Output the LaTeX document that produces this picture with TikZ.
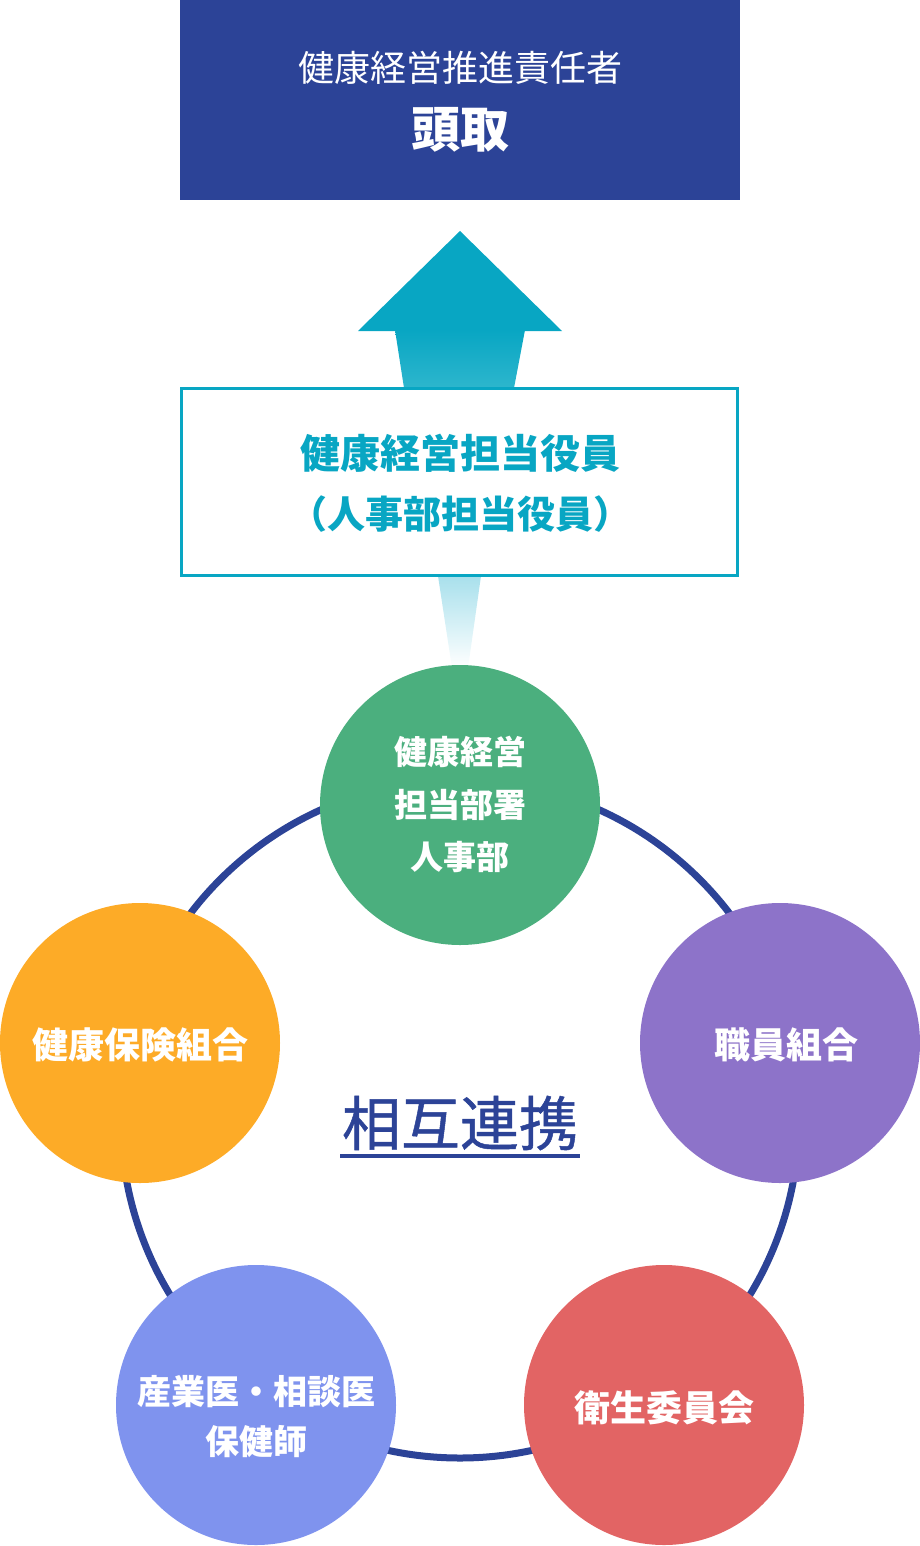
\documentclass[tikz,border=0pt]{standalone}
\usepackage{fontspec}
\setmainfont{Noto Sans CJK JP}
\newfontfamily\jpmed{Noto Sans CJK JP}[FakeBold=0.8]
\definecolor{navy}{HTML}{2C4397}
\definecolor{teal}{HTML}{08A6C3}
\definecolor{teallight}{HTML}{2DB6CD}
\definecolor{funnel}{HTML}{A8E0EC}
\definecolor{cgreen}{HTML}{4BAF7E}
\definecolor{corange}{HTML}{FDAB27}
\definecolor{cpurple}{HTML}{8D73C9}
\definecolor{cblue}{HTML}{7F93EE}
\definecolor{cred}{HTML}{E26464}
\tikzset{
  bubble/.style={circle, minimum size=280pt, inner sep=0pt, draw=none},
  bubbletext/.style={text=white, font=\fontsize{#1}{40}\selectfont\bfseries, inner sep=0pt},
  bubbletext/.default=34,
}
\begin{document}
\begin{tikzpicture}[x=1pt,y=-1pt]
\useasboundingbox (0,0) rectangle (920,1546);
% top box
\fill[navy] (180,0) rectangle (740,200);
\node[text=white, font=\fontsize{36}{40}\selectfont, inner sep=0pt] (t1) at (460,68) {健康経営推進責任者};
\node[text=white, font=\fontsize{49}{50}\selectfont\bfseries, inner sep=0pt] (t2) at (460,130) {頭取};
% up arrow
\fill[teal] (460,231) -- (562,331) -- (358,331) -- cycle;
\shade[top color=teal, bottom color=teallight] (395,330) -- (525,330) -- (514,388) -- (404,388) -- cycle;
% funnel
\shade[top color=funnel, bottom color=white] (438,576) -- (481,576) -- (468,668) -- (452,668) -- cycle;
% middle box
\draw[teal, line width=3pt, fill=white] (181.5,388.5) rectangle (737.5,575.5);
\node[text=teal, font=\fontsize{40}{40}\selectfont\bfseries, inner sep=0pt] (m1) at (460,453) {健康経営担当役員};
\node[text=teal, font=\fontsize{38}{40}\selectfont\bfseries, inner sep=0pt] (m2) at (460,514) {（人事部担当役員）};
% ring
\draw[navy, line width=7pt] (460,1119) circle[radius=339];
% circles
\node[bubble, fill=cgreen] (g) at (460,805) {};
\node[bubble, fill=corange] (o) at (140,1043) {};
\node[bubble, fill=cpurple] (p) at (780,1043) {};
\node[bubble, fill=cblue] (b) at (256,1405) {};
\node[bubble, fill=cred] (r) at (664,1405) {};
% labels
\node[bubbletext=33] (g1) at (460,752) {健康経営};
\node[bubbletext=33] (g2) at (460,805) {担当部署};
\node[bubbletext=33] (g3) at (460,857) {人事部};
\node[bubbletext=36] (o1) at (140,1045) {健康保険組合};
\node[bubbletext=36] (p1) at (786,1045) {職員組合};
\node[bubbletext=34] (b1) at (256,1392) {産業医・相談医};
\node[bubbletext=34] (b2) at (256,1442) {保健師};
\node[bubbletext=36] (r1) at (664,1408) {衛生委員会};
% center
\node[text=navy, font=\jpmed\fontsize{59}{60}\selectfont, inner sep=0pt] (c) at (460,1123) {相互連携};
\draw[navy, line width=4pt] (340,1156) -- (580,1156);
\end{tikzpicture}
\end{document}
